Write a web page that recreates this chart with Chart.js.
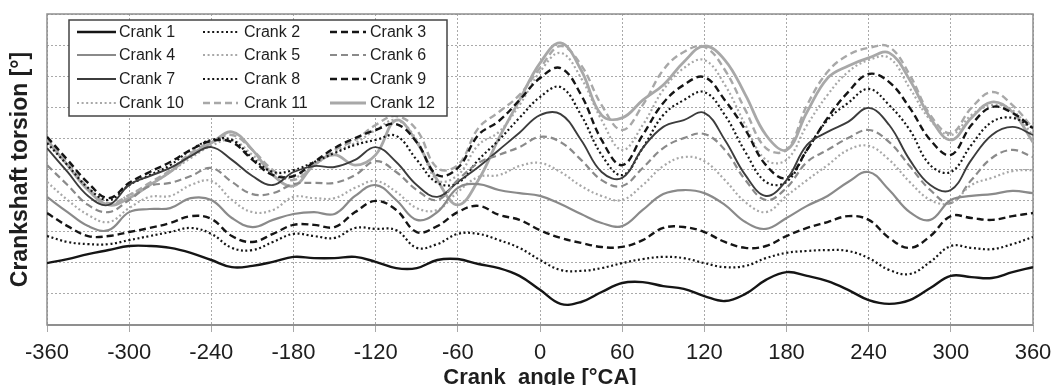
<!DOCTYPE html>
<html>
<head>
<meta charset="utf-8">
<script src="https://cdn.jsdelivr.net/npm/chart.js@4.4.1/dist/chart.umd.min.js"></script>
<style>
  html, body { margin: 0; padding: 0; background: #fff; }
</style>
</head>
<body>
<canvas id="torsion" width="1054" height="385"></canvas>
<script>
// ==========================================
// Crankshaft torsion per crank, over one cycle (-360..360 °CA)
// ==========================================
// Values are in grid units (one unit = one horizontal gridline, the
// y axis has no labels in the original), read off every 15 °CA.

const angles = [-360, -345, -330, -315, -300, -285, -270, -255, -240, -225, -210, -195, -180, -165, -150, -135, -120, -105, -90, -75, -60, -45, -30, -15,
    0, 15, 30, 45, 60, 75, 90, 105, 120, 135, 150, 165, 180, 195, 210, 225, 240, 255, 270, 285, 300, 315, 330, 345, 360];

const crank1 = [1.99, 2.12, 2.28, 2.41, 2.54, 2.54, 2.48, 2.32, 2.09, 1.86, 1.90, 2.03, 2.19, 2.15, 2.15, 2.19, 2.03, 1.83, 1.83, 2.09, 2.12, 1.96, 1.83, 1.58,
    1.13, 0.68, 0.74, 1.06, 1.35, 1.38, 1.25, 1.16, 0.93, 0.77, 1.00, 1.45, 1.70, 1.58, 1.41, 1.13, 0.80, 0.68, 0.80, 1.19, 1.58, 1.54, 1.51, 1.70, 1.86];
const crank2 = [2.86, 2.67, 2.60, 2.60, 2.73, 2.86, 2.99, 3.12, 2.93, 2.48, 2.41, 2.67, 2.93, 2.86, 2.80, 3.12, 3.09, 3.05, 2.48, 2.60, 2.93, 2.93, 2.73, 2.48,
    2.09, 1.77, 1.74, 1.83, 1.99, 2.12, 2.19, 2.15, 1.99, 1.86, 1.90, 2.15, 2.32, 2.38, 2.41, 2.38, 2.15, 1.77, 1.64, 2.03, 2.54, 2.48, 2.44, 2.60, 2.83];
const crank3 = [3.60, 3.18, 2.86, 2.86, 2.99, 3.12, 3.28, 3.50, 3.41, 2.86, 2.67, 2.93, 3.22, 3.22, 3.15, 3.63, 3.99, 3.70, 2.99, 3.18, 3.63, 3.83, 3.54, 3.38,
    3.05, 2.80, 2.64, 2.51, 2.51, 2.73, 3.12, 3.15, 2.99, 2.67, 2.48, 2.54, 2.86, 3.12, 3.31, 3.50, 3.38, 2.80, 2.48, 2.86, 3.50, 3.44, 3.38, 3.50, 3.60];
const crank4 = [4.12, 3.63, 3.18, 3.05, 3.63, 3.73, 3.76, 4.08, 4.02, 3.44, 3.15, 3.38, 3.57, 3.63, 3.57, 4.15, 4.50, 4.02, 3.38, 3.63, 4.41, 4.53, 4.34, 4.24,
    4.15, 3.89, 3.57, 3.28, 3.18, 3.70, 4.21, 4.34, 4.24, 3.86, 3.31, 3.09, 3.44, 3.83, 4.15, 4.60, 4.92, 4.34, 3.63, 3.38, 4.02, 4.15, 4.21, 4.31, 4.24];
const crank5 = [4.60, 4.02, 3.54, 3.31, 3.76, 4.12, 4.15, 4.50, 4.63, 4.02, 3.63, 3.70, 4.12, 4.08, 4.08, 4.41, 4.63, 4.28, 3.76, 3.70, 4.28, 4.76, 4.82, 5.11,
    5.21, 4.92, 4.47, 4.15, 4.02, 4.50, 5.11, 5.40, 5.27, 4.66, 3.95, 3.63, 4.15, 4.66, 5.14, 5.63, 5.76, 5.31, 4.60, 4.02, 3.92, 4.50, 4.73, 4.95, 4.98];
const crank6 = [5.14, 4.50, 3.86, 3.63, 4.02, 4.47, 4.57, 4.79, 5.05, 4.60, 4.21, 4.24, 4.53, 4.57, 4.57, 4.82, 5.27, 4.92, 4.34, 4.02, 4.66, 5.21, 5.47, 5.72,
    6.05, 5.88, 5.31, 4.66, 4.47, 5.05, 5.69, 6.01, 6.14, 5.63, 4.66, 4.02, 4.41, 5.24, 5.63, 6.01, 6.27, 5.88, 5.11, 4.34, 3.92, 4.66, 5.37, 5.63, 5.40];
const crank7 = [5.69, 4.92, 4.15, 3.86, 4.50, 4.79, 5.05, 5.43, 5.72, 5.31, 4.79, 4.50, 4.92, 5.11, 5.08, 5.31, 5.72, 5.24, 4.50, 4.12, 4.60, 5.08, 5.63, 6.18,
    6.75, 6.78, 5.95, 4.92, 4.73, 5.69, 6.37, 6.59, 6.82, 5.95, 4.82, 4.15, 4.66, 5.79, 6.21, 6.53, 6.98, 6.43, 5.31, 4.50, 4.34, 5.31, 6.11, 6.37, 6.11];
const crank8 = [5.85, 5.14, 4.41, 4.02, 4.50, 4.82, 5.14, 5.63, 5.95, 5.95, 5.37, 4.92, 4.98, 5.24, 5.53, 5.79, 5.95, 6.08, 5.31, 4.57, 4.57, 5.31, 5.95, 6.66,
    7.33, 7.65, 6.75, 5.47, 4.82, 5.69, 6.75, 7.23, 7.49, 6.75, 5.56, 4.60, 4.60, 5.63, 6.59, 7.14, 7.59, 7.07, 6.27, 5.14, 4.92, 5.79, 6.53, 6.66, 6.33];
const crank9 = [6.05, 5.31, 4.57, 4.08, 4.57, 4.92, 5.24, 5.63, 5.92, 5.88, 5.31, 4.82, 4.79, 5.24, 5.69, 6.01, 6.27, 6.46, 5.88, 4.82, 5.05, 6.11, 6.56, 7.23,
    7.94, 8.26, 7.40, 5.95, 5.14, 6.11, 7.14, 7.72, 7.97, 7.23, 6.27, 5.14, 4.73, 5.63, 6.66, 7.49, 8.07, 7.81, 6.98, 5.95, 5.47, 6.43, 7.01, 6.82, 6.33];
const crank10 = [5.88, 5.14, 4.34, 3.86, 4.18, 4.50, 4.92, 5.37, 5.76, 5.95, 5.47, 4.92, 4.73, 5.14, 5.56, 5.85, 6.27, 6.59, 5.95, 4.66, 4.82, 5.79, 6.21, 7.07,
    8.14, 8.75, 7.94, 6.59, 5.63, 6.43, 7.56, 8.26, 8.52, 7.72, 6.43, 5.31, 5.31, 6.43, 7.40, 8.14, 8.52, 8.59, 7.62, 6.59, 6.11, 6.75, 7.07, 6.91, 6.08];
const crank11 = [6.01, 5.24, 4.41, 3.92, 4.18, 4.57, 4.98, 5.53, 5.88, 6.11, 5.63, 4.98, 4.66, 5.14, 5.63, 5.95, 6.43, 6.72, 6.27, 5.05, 5.14, 6.33, 6.85, 7.40,
    8.26, 8.97, 8.36, 7.07, 6.27, 7.07, 8.20, 8.78, 8.94, 8.20, 6.91, 5.69, 5.63, 7.07, 8.14, 8.68, 8.91, 8.94, 8.04, 6.75, 6.17, 6.98, 7.49, 7.07, 6.33];
const crank12 = [5.95, 5.14, 4.34, 3.86, 4.08, 4.50, 4.92, 5.47, 5.85, 6.21, 5.63, 4.82, 4.47, 5.14, 5.47, 5.14, 5.47, 6.59, 5.88, 4.66, 3.86, 4.66, 6.01, 7.23,
    8.42, 9.07, 8.20, 6.75, 6.66, 7.23, 7.72, 8.46, 8.97, 8.52, 7.40, 6.11, 5.63, 6.85, 7.94, 8.33, 8.59, 8.75, 7.88, 6.66, 5.95, 6.66, 7.17, 6.85, 5.88];

// Line styles, in the same order as the legend (black, mid gray, dark gray, light gray)
const DOT = [2, 2.6];
const DASH = [7, 4];
const estilos = [
    { label: 'Crank 1',  data: crank1,  color: '#151515', width: 2.4, dash: [] },
    { label: 'Crank 2',  data: crank2,  color: '#151515', width: 2.2, dash: DOT },
    { label: 'Crank 3',  data: crank3,  color: '#151515', width: 2.4, dash: DASH },
    { label: 'Crank 4',  data: crank4,  color: '#8a8a8a', width: 2.2, dash: [] },
    { label: 'Crank 5',  data: crank5,  color: '#a8a8a8', width: 2.2, dash: DOT },
    { label: 'Crank 6',  data: crank6,  color: '#8a8a8a', width: 2.2, dash: DASH },
    { label: 'Crank 7',  data: crank7,  color: '#3c3c3c', width: 1.9, dash: [] },
    { label: 'Crank 8',  data: crank8,  color: '#151515', width: 2.2, dash: DOT },
    { label: 'Crank 9',  data: crank9,  color: '#151515', width: 2.4, dash: DASH },
    { label: 'Crank 10', data: crank10, color: '#a8a8a8', width: 2.2, dash: DOT },
    { label: 'Crank 11', data: crank11, color: '#a8a8a8', width: 2.4, dash: DASH },
    { label: 'Crank 12', data: crank12, color: '#a8a8a8', width: 2.8, dash: [] }
];

// Frame around the plot + the legend box drawn inside the plot (top-left),
// Chart.js' own legend can't sit inside the chart area.
const marcoYLeyenda = {
    id: 'marcoYLeyenda',
    beforeDatasetsDraw(chart) {
        const { ctx, chartArea: a } = chart;
        ctx.save();
        ctx.strokeStyle = '#8f8f8f';
        ctx.lineWidth = 1.5;
        ctx.strokeRect(a.left, a.top, a.right - a.left, a.bottom - a.top);
        ctx.lineWidth = 2.2;
        ctx.beginPath();
        ctx.moveTo(a.left, a.bottom);
        ctx.lineTo(a.right, a.bottom);
        ctx.stroke();
        ctx.restore();
    },
    afterDatasetsDraw(chart) {
        const ctx = chart.ctx;
        const columnas = [
            { x0: 77, x1: 116, tx: 119 },
            { x0: 203, x1: 238, tx: 244 },
            { x0: 330, x1: 366, tx: 370 }
        ];
        const filas = [32, 55, 79, 103];
        ctx.save();
        ctx.fillStyle = '#fff';
        ctx.fillRect(69, 20, 378, 96);
        ctx.strokeStyle = '#444';
        ctx.lineWidth = 1.5;
        ctx.strokeRect(69, 20, 378, 96);
        ctx.font = '16px "Liberation Sans", Arial, sans-serif';
        ctx.textBaseline = 'middle';
        chart.data.datasets.forEach((ds, i) => {
            const c = columnas[i % 3];
            const y = filas[Math.floor(i / 3)];
            ctx.strokeStyle = ds.borderColor;
            ctx.lineWidth = ds.borderWidth;
            ctx.setLineDash(ds.borderDash);
            ctx.beginPath();
            ctx.moveTo(c.x0, y);
            ctx.lineTo(c.x1, y);
            ctx.stroke();
            ctx.setLineDash([]);
            ctx.fillStyle = '#1e1e1e';
            ctx.fillText(ds.label, c.tx, y + 1);
        });
        ctx.restore();
    }
};

Chart.defaults.font.family = '"Liberation Sans", Arial, sans-serif';

new Chart(document.getElementById('torsion').getContext('2d'), {
    type: 'line',
    data: {
        datasets: estilos.map(s => ({
            label: s.label,
            data: angles.map((a, i) => ({ x: a, y: s.data[i] })),
            borderColor: s.color,
            borderWidth: s.width,
            borderDash: s.dash,
            fill: false,
            pointRadius: 0,
            tension: 0.4
        }))
    },
    options: {
        responsive: false,
        animation: false,
        devicePixelRatio: 1,
        layout: { padding: { top: 14, right: 21, left: 0, bottom: 0 } },
        plugins: { legend: { display: false }, tooltip: { enabled: false } },
        scales: {
            x: {
                type: 'linear',
                min: -360,
                max: 360,
                // fixed height; the end labels fit in the margins without extra padding
                afterFit: s => { s.height = 60; s.paddingLeft = 0; s.paddingRight = 0; },
                ticks: { stepSize: 60, color: '#1e1e1e', font: { size: 22 }, padding: 8 },
                grid: { color: '#a9a9a9', lineWidth: 1, tickLength: 7, tickColor: '#a9a9a9' },
                border: { display: false, dash: [2, 2] },
                title: {
                    display: true,
                    text: 'Crank  angle [°CA]',
                    color: '#1e1e1e',
                    font: { size: 22, weight: 'bold', lineHeight: 0.6 },
                    padding: 0
                }
            },
            y: {
                min: 0,
                max: 10,
                afterFit: s => { s.width = 47; },
                ticks: { stepSize: 1, display: false },
                grid: { color: '#a9a9a9', lineWidth: 1, drawTicks: false },
                border: { display: false, dash: [2, 2] },
                title: {
                    display: true,
                    text: 'Crankshaft torsion [°]',
                    color: '#1e1e1e',
                    font: { size: 23, weight: 'bold' },
                    padding: { top: 7, bottom: 0 }
                }
            }
        }
    },
    plugins: [marcoYLeyenda]
});
</script>
</body>
</html>
